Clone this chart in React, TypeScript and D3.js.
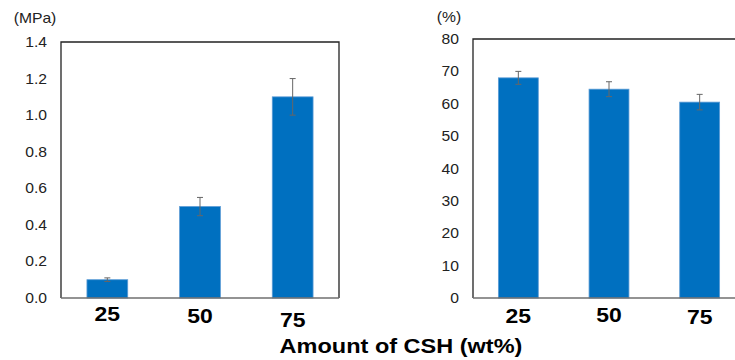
import * as d3 from "d3";
import { useRef, useEffect } from "react";

const categories = ["25", "50", "75"];
const strengthValues = [0.1, 0.5, 1.1];
const strengthErrors = [0.01, 0.05, 0.1];
const strengthTicks = ["0.0", "0.2", "0.4", "0.6", "0.8", "1.0", "1.2", "1.4"];
const porosityValues = [68, 64.5, 60.5];
const porosityErrors = [2, 2.3, 2.4];
const porosityTicks = ["0", "10", "20", "30", "40", "50", "60", "70", "80"];

const FONT = "'Liberation Sans', Arial, sans-serif";
const BAR = "#0070C0";
const STRETCH = 1.12; // source image text is a bit wide

// text placed with a horizontal stretch
const label = (g, x, y, txt, size, anchor, bold = false, color = "#222") =>
  g.append("text")
    .attr("transform", `translate(${x},${y}) scale(${STRETCH},1)`)
    .attr("text-anchor", anchor)
    .attr("font-family", FONT)
    .attr("font-size", size)
    .attr("font-weight", bold ? "bold" : "normal")
    .attr("fill", color)
    .text(txt);

// draws one framed bar panel with error bars
const drawPanel = (svg, opts) => {
  const { x0, x1, y0, y1, max, values, errors, ticks, unit, unitX, unitY, labelY } = opts;
  const g = svg.append("g");

  const x = d3.scaleBand().domain(categories).range([x0, x1]).paddingInner(0.56).paddingOuter(0.28);
  const y = d3.scaleLinear().domain([0, max]).range([y1, y0]);

  // frame: top, left, right dark; bottom grey
  g.append("path")
    .attr("d", `M${x0},${y1}V${y0}H${x1}V${y1}`)
    .attr("fill", "none")
    .attr("stroke", "#222")
    .attr("stroke-width", 1.3);

  g.selectAll("rect.bar")
    .data(values)
    .join("rect")
    .attr("x", (d, i) => x(categories[i]))
    .attr("y", (d) => y(d))
    .attr("width", x.bandwidth())
    .attr("height", (d) => y1 - y(d))
    .attr("fill", BAR)
    .attr("stroke", "#5b9bd5")
    .attr("stroke-width", 0.8);

  g.append("line")
    .attr("x1", x0).attr("x2", x1)
    .attr("y1", y1).attr("y2", y1)
    .attr("stroke", "#6f6f6f")
    .attr("stroke-width", 1.3);

  // error bars
  values.forEach((v, i) => {
    const cx = x(categories[i]) + x.bandwidth() / 2;
    const top = y(v + errors[i]);
    const bot = y(v - errors[i]);
    g.append("line").attr("x1", cx).attr("x2", cx).attr("y1", top).attr("y2", bot)
      .attr("stroke", "#666").attr("stroke-width", 1);
    [top, bot].forEach((yy) => {
      g.append("line").attr("x1", cx - 3).attr("x2", cx + 3).attr("y1", yy).attr("y2", yy)
        .attr("stroke", "#666").attr("stroke-width", 1);
    });
  });

  // y tick labels
  ticks.forEach((t) => label(g, x0 - 14, y(+t) + 5, t, 14, "end"));

  // x category labels (slightly staggered as in the source)
  categories.forEach((c, i) =>
    label(g, x(c) + x.bandwidth() / 2, labelY[i], c, 20.5, "middle", true, "#000"));

  label(g, unitX, unitY, unit, 14, "middle");
};

const App = () => {
  const ref = useRef(null);

  useEffect(() => {
    const svg = d3.select(ref.current);
    svg.selectAll("*").remove();

    drawPanel(svg, {
      x0: 61, x1: 339, y0: 42, y1: 298, max: 1.4,
      values: strengthValues, errors: strengthErrors, ticks: strengthTicks,
      unit: "(MPa)", unitX: 35, unitY: 23, labelY: [320.5, 323, 327],
    });

    drawPanel(svg, {
      x0: 473, x1: 745, y0: 39, y1: 298, max: 80,
      values: porosityValues, errors: porosityErrors, ticks: porosityTicks,
      unit: "(%)", unitX: 449, unitY: 22, labelY: [323, 321.5, 324],
    });

    label(svg, 401, 353, "Amount of CSH (wt%)", 21, "middle", true, "#000");
  }, []);

  return (
    <svg
      ref={ref}
      width={735}
      height={360}
      style={{ position: "absolute", left: 0, top: 0, background: "#fff" }}
    />
  );
};

export default App;
